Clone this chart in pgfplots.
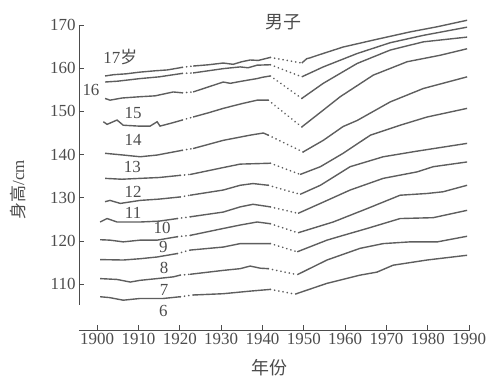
\documentclass[border=0pt]{standalone}
\usepackage{fontspec}
\setmainfont{Liberation Serif}
\newfontfamily\cjk{Noto Sans CJK SC}
\usepackage{pgfplots}
\pgfplotsset{compat=1.18}
\definecolor{lc}{HTML}{5E5E5E}
\definecolor{tc}{HTML}{4C4C4C}
\pgfplotsset{
  cv/.style={line width=1.4pt, color=lc, mark=none},
  dt/.style={line width=1.8pt, color=lc, mark=none, line cap=round, dash pattern=on 0.1pt off 4.2pt},
}
\begin{document}
\begin{tikzpicture}
\path[use as bounding box] (-79bp,-48bp) rectangle (412bp,330bp);
\begin{axis}[
  at={(0,0)}, anchor=south west,
  scale only axis, width=391bp, height=305bp,
  xmin=1895.6, xmax=1990.2, ymin=99.4, ymax=170,
  axis x line*=bottom, axis y line*=left,
  y axis line style={draw=none},
  x axis line style={tc, line width=1pt},
  tick align=inside, major tick length=5bp,
  tick style={tc, line width=1pt},
  xtick={1900,1910,...,1990}, ytick={110,120,...,170},
  minor tick num=0,
  /pgf/number format/assume math mode=true,
  /pgf/number format/1000 sep={},
  xticklabel style={font=\fontsize{17}{20}\selectfont, text=tc},
  yticklabel style={font=\fontsize{17}{20}\selectfont, text=tc},
  clip=false,
]
\draw[tc, line width=1pt] (axis cs:1895.6,105.3) -- (axis cs:1895.6,170);

% 17
\addplot[cv] coordinates {(1901.9,158.2) (1904,158.5) (1907,158.7) (1910.4,159.1) (1914,159.4) (1917,159.6) (1920.6,160.2)};
\addplot[dt] coordinates {(1920.6,160.2) (1923.2,160.5)};
\addplot[cv] coordinates {(1923.2,160.5) (1927,160.8) (1930.5,161.2) (1932.9,160.9) (1935,161.5) (1937,161.9) (1939,161.8) (1941.9,162.5)};
\addplot[dt] coordinates {(1941.9,162.5) (1949.5,161.2)};
\addplot[cv] coordinates {(1949.5,161.2) (1950.7,162.2) (1951.5,162.4) (1954,163.2) (1959.5,164.9) (1967.7,166.7) (1975.7,168.4) (1982.3,169.6) (1989.5,171.1)};
% 16
\addplot[cv] coordinates {(1901.9,156.8) (1905,157.0) (1910.4,157.6) (1915,158.0) (1920.6,158.8)};
\addplot[dt] coordinates {(1920.6,158.8) (1923.2,158.9)};
\addplot[cv] coordinates {(1923.2,158.9) (1930.5,159.9) (1934.6,160.3) (1936.5,160.1) (1938.7,160.7) (1941.9,160.8)};
\addplot[dt] coordinates {(1941.9,160.8) (1949.5,158.0)};
\addplot[cv] coordinates {(1949.5,158.0) (1954.7,160.3) (1962.9,163.4) (1970.9,165.9) (1978.9,167.6) (1989.5,169.5)};
% 15
\addplot[cv] coordinates {(1901.9,153.0) (1903.1,152.6) (1906,153.1) (1910.4,153.4) (1914,153.6) (1918.4,154.5) (1920.6,154.3)};
\addplot[dt] coordinates {(1920.6,154.3) (1923.2,154.5)};
\addplot[cv] coordinates {(1923.2,154.5) (1930.5,156.8) (1932.2,156.5) (1935,157.0) (1938.7,157.6) (1940,157.9) (1941.9,158.2)};
\addplot[dt] coordinates {(1941.9,158.2) (1949.5,153.0)};
\addplot[cv] coordinates {(1949.5,153.0) (1954.7,156.5) (1962.9,161.1) (1970.9,164.2) (1978.9,166.1) (1989.5,167.2)};
% 14
\addplot[cv] coordinates {(1901.5,147.6) (1902.4,147.0) (1904.8,148.0) (1906.3,146.8) (1910,146.6) (1912.8,146.6) (1914.5,147.6) (1915.2,146.6) (1918,147.3) (1920.6,148.0)};
\addplot[dt] coordinates {(1920.6,148.0) (1923.2,148.7)};
\addplot[cv] coordinates {(1923.2,148.7) (1927,149.7) (1930.5,150.7) (1935,151.8) (1938.7,152.6) (1941.4,152.6)};
\addplot[dt] coordinates {(1941.4,152.6) (1949.5,146.4)};
\addplot[cv] coordinates {(1949.5,146.4) (1954.7,150.3) (1958.8,153.4) (1966.8,158.4) (1975,161.5) (1983,163.0) (1989.5,164.5)};
% 13
\addplot[cv] coordinates {(1901.9,140.3) (1906.3,139.9) (1910.4,139.5) (1914.5,139.9) (1920.6,141.0)};
\addplot[dt] coordinates {(1920.6,141.0) (1923.2,141.4)};
\addplot[cv] coordinates {(1923.2,141.4) (1930.5,143.3) (1937,144.5) (1940.2,145.0) (1941.4,144.5)};
\addplot[dt] coordinates {(1941.4,144.5) (1949.8,140.6)};
\addplot[cv] coordinates {(1949.8,140.6) (1954.7,143.3) (1959.5,146.5) (1962.9,147.9) (1970.9,152.2) (1978.9,155.3) (1989.5,158.0)};
% 12
\addplot[cv] coordinates {(1901.9,134.5) (1906,134.3) (1910.4,134.5) (1915,134.7) (1920.1,135.2)};
\addplot[dt] coordinates {(1920.1,135.2) (1922.5,135.4)};
\addplot[cv] coordinates {(1922.5,135.4) (1930.5,137.0) (1934.6,137.8) (1941.9,138.0)};
\addplot[dt] coordinates {(1941.9,138.0) (1949.1,135.4)};
\addplot[cv] coordinates {(1949.1,135.4) (1954,137.2) (1959.5,140.3) (1966.1,144.5) (1973.3,146.8) (1979.8,148.7) (1989.5,150.7)};
% 11
\addplot[cv] coordinates {(1901.9,129.1) (1903.1,129.4) (1905.6,128.7) (1910.4,129.4) (1915,129.7) (1920.1,130.2)};
\addplot[dt] coordinates {(1920.1,130.2) (1922.5,130.6)};
\addplot[cv] coordinates {(1922.5,130.6) (1930.5,131.8) (1934.6,132.9) (1937.7,133.3) (1941.4,132.9)};
\addplot[dt] coordinates {(1941.4,132.9) (1949.1,130.8)};
\addplot[cv] coordinates {(1949.1,130.8) (1954,132.9) (1961.2,137.2) (1969.2,139.5) (1977.4,140.8) (1989.5,142.6)};
% 10
\addplot[cv] coordinates {(1900.7,124.4) (1902.4,125.2) (1904.8,124.4) (1910.4,124.4) (1915,124.6) (1919.4,125.2)};
\addplot[dt] coordinates {(1919.4,125.2) (1922.5,125.6)};
\addplot[cv] coordinates {(1922.5,125.6) (1930.5,126.7) (1934.6,127.9) (1937.7,128.5) (1941.9,127.9)};
\addplot[dt] coordinates {(1941.9,127.9) (1948.6,126.4)};
\addplot[cv] coordinates {(1948.6,126.4) (1954,128.7) (1961.2,131.8) (1969.2,134.5) (1977.4,136.0) (1981.3,137.2) (1989.5,138.3)};
% 9
\addplot[cv] coordinates {(1900.7,120.3) (1903.1,120.2) (1906.3,119.8) (1910.4,120.2) (1914.5,120.2) (1919.4,121.0)};
\addplot[dt] coordinates {(1919.4,121.0) (1922.5,121.3)};
\addplot[cv] coordinates {(1922.5,121.3) (1930.5,122.9) (1934.6,123.7) (1938.7,124.4) (1941.9,124.0)};
\addplot[dt] coordinates {(1941.9,124.0) (1948.6,121.9)};
\addplot[cv] coordinates {(1948.6,121.9) (1957.1,124.4) (1965.3,127.5) (1973.3,130.6) (1979.8,131.0) (1983.7,131.4) (1989.5,132.9)};
% 8
\addplot[cv] coordinates {(1900.7,115.7) (1906.3,115.6) (1910.4,115.9) (1914.5,116.3) (1919.4,117.1)};
\addplot[dt] coordinates {(1919.4,117.1) (1922.5,117.9)};
\addplot[cv] coordinates {(1922.5,117.9) (1930.5,118.6) (1934.6,119.4) (1941.9,119.4)};
\addplot[dt] coordinates {(1941.9,119.4) (1948.4,117.5)};
\addplot[cv] coordinates {(1948.4,117.5) (1955.6,120.2) (1959.5,121.3) (1965.3,122.9) (1973.3,125.2) (1981.3,125.4) (1989.5,127.1)};
% 7
\addplot[cv] coordinates {(1900.7,111.3) (1904.8,111.1) (1908,110.5) (1910.4,110.9) (1914.5,111.3) (1918.4,111.7) (1920.1,112.1)};
\addplot[dt] coordinates {(1920.1,112.1) (1922.5,112.3)};
\addplot[cv] coordinates {(1922.5,112.3) (1930.5,113.2) (1934.6,113.6) (1937,114.2) (1939.5,113.7) (1941.4,113.6)};
\addplot[dt] coordinates {(1941.4,113.6) (1948.4,112.2)};
\addplot[cv] coordinates {(1948.4,112.2) (1955.6,115.6) (1963.6,118.3) (1969.2,119.4) (1975.7,119.8) (1982.3,119.8) (1989.5,121.1)};
% 6
\addplot[cv] coordinates {(1900.7,107.1) (1903,106.9) (1906.3,106.3) (1910.4,106.7) (1916,106.7) (1920.1,107.1)};
\addplot[dt] coordinates {(1920.1,107.1) (1923.2,107.5)};
\addplot[cv] coordinates {(1923.2,107.5) (1930.5,107.8) (1937,108.4) (1941.9,108.8)};
\addplot[dt] coordinates {(1941.9,108.8) (1947.9,107.7)};
\addplot[cv] coordinates {(1947.9,107.7) (1955.6,110.2) (1963.6,112.1) (1967.7,112.8) (1971.6,114.4) (1979.8,115.6) (1989.5,116.7)};

% curve labels
\begin{scope}[every node/.style={font=\fontsize{17}{20}\selectfont, text=tc, inner sep=0pt}]
\node at (axis cs:1905.6,162.5) {17{\cjk 岁}};
\node at (axis cs:1898.5,154.9) {16};
\node at (axis cs:1908.7,149.6) {15};
\node at (axis cs:1908.7,143.3) {14};
\node at (axis cs:1908.5,137.1) {13};
\node at (axis cs:1908.7,131.3) {12};
\node at (axis cs:1908.7,126.4) {11};
\node at (axis cs:1915.7,123.0) {10};
\node at (axis cs:1916.0,118.6) {9};
\node at (axis cs:1916.2,113.7) {8};
\node at (axis cs:1916.2,108.6) {7};
\node at (axis cs:1916.0,103.8) {6};
\end{scope}
% title and axis labels
\node[font=\cjk\fontsize{18}{20}\selectfont, text=tc] at (rel axis cs:0.524,1.01) {男子};
\node[font=\cjk\fontsize{18}{20}\selectfont, text=tc, yshift=-38bp] at (rel axis cs:0.488,0) {年份};
\node[font=\fontsize{17}{20}\selectfont, text=tc, rotate=90] at (axis cs:1880.8,131.9) {{\cjk 身高}/cm};
\end{axis}
\end{tikzpicture}
\end{document}
